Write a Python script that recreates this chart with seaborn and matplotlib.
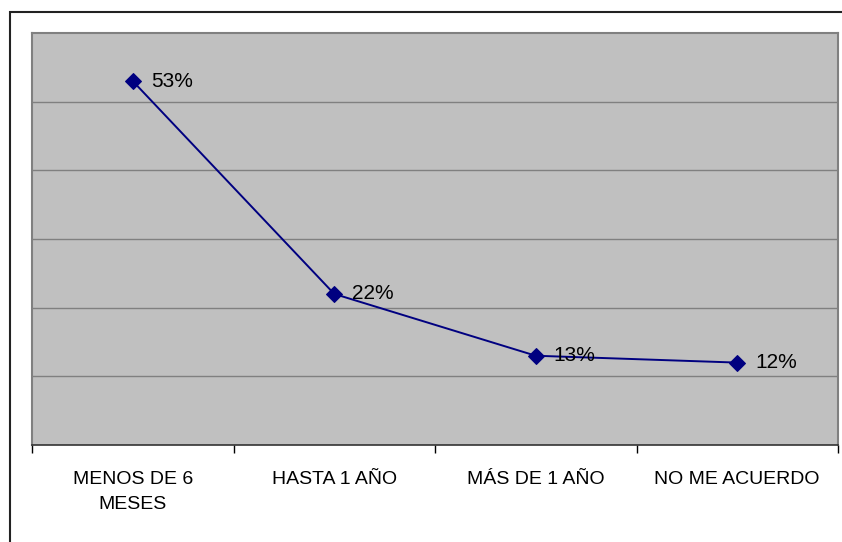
import pandas as pd
import seaborn as sns
import matplotlib.pyplot as plt
import matplotlib.patches as patches

# datos
categorias = ["MENOS DE 6\nMESES", "HASTA 1 AÑO", "MÁS DE 1 AÑO", "NO ME ACUERDO"]
valores = [53, 22, 13, 12]
etiquetas = ["53%", "22%", "13%", "12%"]

df = pd.DataFrame({"periodo": categorias, "porcentaje": valores})

sns.set_style("white")
plt.rcParams["font.family"] = ["Liberation Sans", "DejaVu Sans"]
plt.rcParams["text.color"] = "black"
plt.rcParams["xtick.color"] = "black"

fig = plt.figure(figsize=(8.42, 5.42), dpi=100)
ax = fig.add_axes([32 / 842, 1 - 445 / 542, 806 / 842, 412 / 542])
ax.set_facecolor("#c0c0c0")

sns.lineplot(data=df, x="periodo", y="porcentaje", sort=False, ax=ax,
             color="#000080", linewidth=1.4, marker="D", markersize=8,
             markeredgecolor="#000080", zorder=3)

for i, (v, t) in enumerate(zip(valores, etiquetas)):
    ax.annotate(t, (i, v), xytext=(18, 0), textcoords="offset pixels",
                ha="left", va="center", fontsize=15, color="black")

ax.set_xlim(-0.5, len(categorias) - 0.5)
ax.set_ylim(0, 60)
ax.set_yticks([10, 20, 30, 40, 50])
ax.yaxis.grid(True, color="#808080", linewidth=1)
ax.set_axisbelow(True)
ax.tick_params(axis="y", left=False, labelleft=False)

# etiquetas en el centro, marcas en los límites
ax.set_xticks(range(len(categorias)))
ax.set_xticklabels(categorias, fontsize=14, linespacing=1.6, color="black")
ax.tick_params(axis="x", which="major", bottom=False, length=0, pad=19)
ax.set_xticks([i - 0.5 for i in range(len(categorias) + 1)], minor=True)
ax.tick_params(axis="x", which="minor", bottom=True, length=6, color="black",
               width=1, direction="out")
ax.set_xlabel("")
ax.set_ylabel("")

for s in ["top", "right", "left"]:
    ax.spines[s].set_color("#808080")
    ax.spines[s].set_linewidth(1.5)
ax.spines["bottom"].set_color("#333333")
ax.spines["bottom"].set_linewidth(1.2)

# marco del gráfico
fig.patches.append(patches.Rectangle((10 / 842, -0.05), 1.1, 1 - 12 / 542 + 0.05,
                                     transform=fig.transFigure, fill=False,
                                     edgecolor="#222222", linewidth=1.5))

fig.savefig("out.png", dpi=100)
